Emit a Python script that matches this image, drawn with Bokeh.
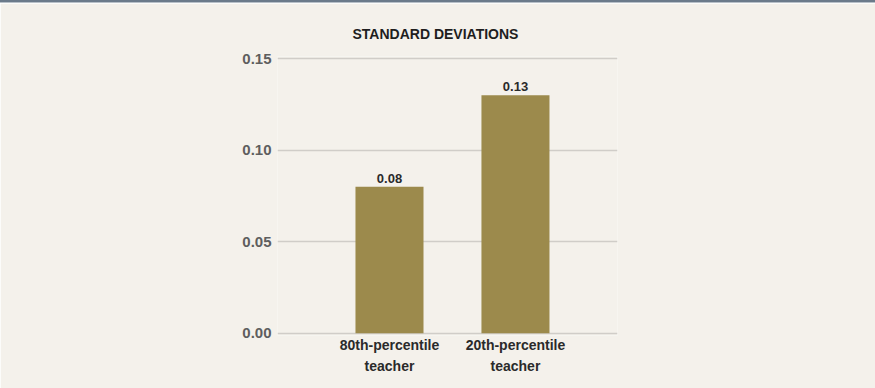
from bokeh.plotting import figure
from bokeh.models import ColumnDataSource, Range1d, FixedTicker, Div
from bokeh.layouts import column
from bokeh.embed import file_html
from bokeh.resources import INLINE
from bokeh.core.properties import value

categories = ["80th-percentile\nteacher", "20th-percentile\nteacher"]
positions = [1, 2]
values = [0.08, 0.13]
value_labels = ["0.08", "0.13"]
y_ticks = [0.0, 0.05, 0.10, 0.15]

BG = "#f4f1eb"
BAR = "#9c8a4c"
FONT = "Liberation Sans"

src = ColumnDataSource(dict(x=positions, top=values, lab=value_labels))

p = figure(width=875, height=385, output_backend="svg", toolbar_location=None,
           x_range=Range1d(0.111, 2.81), y_range=Range1d(-0.0012, 0.1512),
           min_border_left=277, min_border_right=258, min_border_top=53,
           min_border_bottom=53, background_fill_color=BG, border_fill_color=BG,
           outline_line_color=None, title="STANDARD DEVIATIONS")

p.title.align = "left"
p.title.offset = 75
p.title.standoff = 30
p.title.text_font = FONT
p.title.text_font_size = "14px"
p.title.text_font_style = "bold"
p.title.text_color = "#1e1e1e"

p.vbar(x="x", top="top", width=0.54, bottom=0, source=src, fill_color=BAR, line_color=None)
p.text(x="x", y="top", text="lab", source=src, text_align="center", text_baseline="bottom",
       y_offset=-4, text_font=value(FONT), text_font_size="13px", text_font_style="bold",
       text_color="#2a2a2a")

p.yaxis.ticker = FixedTicker(ticks=y_ticks)
p.yaxis.major_label_overrides = {t: f"{t:.2f}" for t in y_ticks}
p.yaxis.axis_line_color = None
p.yaxis.major_tick_line_color = None
p.yaxis.minor_tick_line_color = None
p.yaxis.major_tick_out = 0
p.yaxis.major_tick_in = 0
p.yaxis.major_label_standoff = 6
p.yaxis.major_label_text_font = FONT
p.yaxis.major_label_text_font_size = "15px"
p.yaxis.major_label_text_font_style = "bold"
p.yaxis.major_label_text_color = "#5e5e5e"

p.xaxis.ticker = FixedTicker(ticks=positions)
p.xaxis.major_label_overrides = {pos: c for pos, c in zip(positions, categories)}
p.xaxis.axis_line_color = None
p.xaxis.major_tick_line_color = None
p.xaxis.minor_tick_line_color = None
p.xaxis.major_tick_out = 0
p.xaxis.major_tick_in = 0
p.xaxis.major_label_standoff = 1
p.xaxis.major_label_text_font = FONT
p.xaxis.major_label_text_font_size = "14px"
p.xaxis.major_label_text_font_style = "bold"
p.xaxis.major_label_text_color = "#2a2a2a"
p.xaxis.major_label_text_line_height = 1.35

p.xgrid.grid_line_color = None
p.ygrid.grid_line_color = "#d0cdc8"
p.ygrid.grid_line_width = 1.5

bar_top = Div(width=875, height=3, styles={"background": "linear-gradient(#6b7a8a 0 2px, #b8c0c8 2px 3px)", "margin": "0"})
layout = column(bar_top, p, spacing=0)

open("out.html", "w").write(file_html(layout, INLINE))
